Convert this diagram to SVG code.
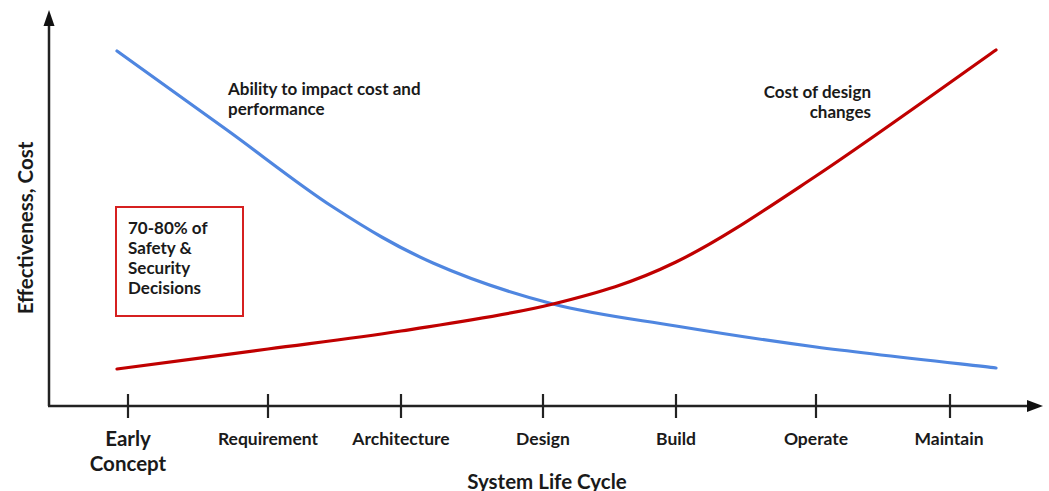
<svg xmlns="http://www.w3.org/2000/svg" width="1049" height="491" viewBox="0 0 1049 491">
<style>
text{font-family:Lato,"Open Sans","Liberation Sans",sans-serif;font-weight:bold;fill:#1a1a1a}
.axis{stroke:#222;stroke-width:2.5;fill:none}
.tick{stroke:#222;stroke-width:2.2}
.lbl{font-size:17.5px;text-anchor:middle}
.big{font-size:20.5px;text-anchor:middle}
.note{font-size:17px}
</style>
<rect width="1049" height="491" fill="#fff"/>
<g id="connectors">
<g id="axes">
<line class="axis" x1="49" y1="406" x2="49" y2="24"/>
<polygon points="49,10 43.5,26 54.5,26" fill="#111"/>
<line class="axis" x1="48" y1="406" x2="1029" y2="406"/>
<polygon points="1043,406 1027,400 1027,412" fill="#111"/>
<line class="tick" x1="128" y1="394" x2="128" y2="418"/>
<line class="tick" x1="268" y1="394" x2="268" y2="418"/>
<line class="tick" x1="401" y1="394" x2="401" y2="418"/>
<line class="tick" x1="543" y1="394" x2="543" y2="418"/>
<line class="tick" x1="676" y1="394" x2="676" y2="418"/>
<line class="tick" x1="816" y1="394" x2="816" y2="418"/>
<line class="tick" x1="950" y1="394" x2="950" y2="418"/>
</g>
<path id="ability-curve" fill="none" stroke="#4f86e0" stroke-width="3.2" stroke-linecap="round" d="M117,51 C135.3,64.2 191,104 227,130 C263,156 298.7,184.8 333,207 C367.3,229.2 396.3,246.8 433,263 C469.7,279.2 512.5,293.5 553,304 C593.5,314.5 632.2,318.8 676,326 C719.8,333.2 762.7,340 816,347 C869.3,354 966,364.5 996,368"/>
<path id="cost-curve" fill="none" stroke="#c00000" stroke-width="3.2" stroke-linecap="round" d="M117,369 C142.2,365.7 220.7,355.3 268,349 C315.3,342.7 353.5,338.5 401,331 C448.5,323.5 507.2,315.5 553,304 C598.8,292.5 632.2,283.3 676,262 C719.8,240.7 762.7,211.3 816,176 C869.3,140.7 966,71 996,50"/>
</g>
<g id="axis-labels">
<text class="big" transform="translate(33,228) rotate(-90)">Effectiveness, Cost</text>
<text class="big" x="547" y="489">System Life Cycle</text>
</g>
<g id="tick-labels">
<text class="big" x="128" y="446">Early</text>
<text class="big" x="128" y="471">Concept</text>
<text class="lbl" x="268" y="445">Requirement</text>
<text class="lbl" x="401" y="445">Architecture</text>
<text class="lbl" x="543" y="445">Design</text>
<text class="lbl" x="676" y="445">Build</text>
<text class="lbl" x="816" y="445">Operate</text>
<text class="lbl" x="949" y="445">Maintain</text>
</g>
<g id="ability-label">
<text class="note" x="228" y="95">Ability to impact cost and</text>
<text class="note" x="228" y="115">performance</text>
</g>
<g id="cost-label">
<text class="note" x="871" y="98" text-anchor="end">Cost of design</text>
<text class="note" x="871" y="118" text-anchor="end">changes</text>
</g>
<g id="decisions-box">
<rect x="116" y="207" width="127" height="109" fill="#fff" stroke="#d62020" stroke-width="2"/>
<text class="note" x="128" y="234">70-80% of</text>
<text class="note" x="128" y="254">Safety &amp;</text>
<text class="note" x="128" y="274">Security</text>
<text class="note" x="128" y="294">Decisions</text>
</g>
</svg>
